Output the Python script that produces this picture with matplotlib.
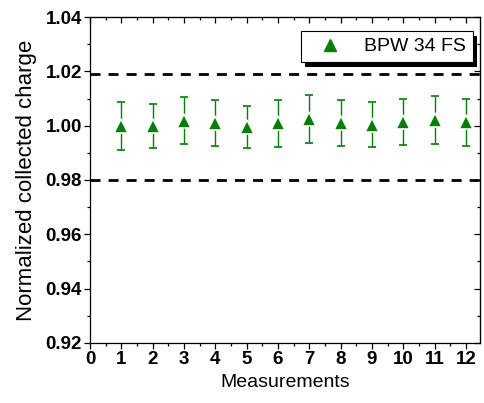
import matplotlib
matplotlib.use("Agg")
import matplotlib.pyplot as plt
from matplotlib.ticker import MultipleLocator, FormatStrFormatter
from matplotlib.lines import Line2D
from matplotlib.patches import Rectangle

# data
measurements = [1, 2, 3, 4, 5, 6, 7, 8, 9, 10, 11, 12]
charge = [1.0000, 0.9999, 1.0019, 1.0010, 0.9994, 1.0008,
          1.0024, 1.0010, 1.0003, 1.0014, 1.0020, 1.0012]
charge_err = [0.0088, 0.0080, 0.0088, 0.0085, 0.0078, 0.0085,
              0.0089, 0.0085, 0.0083, 0.0086, 0.0088, 0.0086]
limits = [1.019, 0.980]
series_label = "BPW 34 FS"

plt.rcParams['font.family'] = ['Liberation Sans', 'DejaVu Sans']

fig = plt.figure(figsize=(4.85, 4.03), dpi=100)
ax = fig.add_axes([0.1856, 0.1489, 0.9897 - 0.1856, 0.9578 - 0.1489])

green = '#008000'

# limit lines
for lim in limits:
    ax.axhline(lim, color='black', lw=2.0, dashes=(3.6, 2.9), zorder=1)

ax.errorbar(measurements, charge, yerr=charge_err, fmt='^', color=green,
            ms=9.5, mfc=green, mec='white', mew=1.2, ecolor=green,
            elinewidth=1.0, capsize=3.0, capthick=1.0, zorder=3)

ax.set_xlim(0, 12.45)
ax.set_ylim(0.92, 1.04)
ax.xaxis.set_major_locator(MultipleLocator(1))
ax.xaxis.set_minor_locator(MultipleLocator(0.5))
ax.yaxis.set_major_locator(MultipleLocator(0.02))
ax.yaxis.set_minor_locator(MultipleLocator(0.01))
ax.yaxis.set_major_formatter(FormatStrFormatter('%.2f'))

for s in ax.spines.values():
    s.set_linewidth(0.9)

ax.tick_params(which='both', direction='out', top=False, right=False, width=0.9)
ax.tick_params(which='major', length=4.3, pad=1.5, labelsize=13.5)
ax.tick_params(which='minor', length=2.2)
for lbl in ax.get_xticklabels() + ax.get_yticklabels():
    lbl.set_fontweight('bold')

# inward mirror ticks on top and right
sec_x = ax.secondary_xaxis('top')
sec_x.xaxis.set_major_locator(MultipleLocator(1))
sec_x.xaxis.set_minor_locator(MultipleLocator(0.5))
sec_x.tick_params(which='both', direction='in', labeltop=False, width=0.9)
sec_x.tick_params(which='major', length=4.3)
sec_x.tick_params(which='minor', length=2.2)
sec_y = ax.secondary_yaxis('right')
sec_y.yaxis.set_major_locator(MultipleLocator(0.02))
sec_y.yaxis.set_minor_locator(MultipleLocator(0.01))
sec_y.tick_params(which='both', direction='in', labelright=False, width=0.9)
sec_y.tick_params(which='major', length=4.3)
sec_y.tick_params(which='minor', length=2.2)

ax.set_xlabel('Measurements', fontsize=14, labelpad=4)
ax.set_ylabel('Normalized collected charge', fontsize=16, labelpad=6)

handle = Line2D([], [], ls='none', marker='^', ms=9, color=green)
leg = ax.legend([handle], [series_label], loc='upper right',
                bbox_to_anchor=(0.982, 0.957), frameon=True, fancybox=False,
                fontsize=14, handletextpad=0.6, borderpad=0.35,
                handlelength=2.3, borderaxespad=0, framealpha=1)
leg.get_frame().set_edgecolor('black')
leg.get_frame().set_linewidth(0.8)
leg.set_zorder(6)

# offset black shadow behind the legend box
fig.canvas.draw()
bb = leg.get_window_extent()
shadow = Rectangle((bb.x0 + 4, bb.y0 - 5), bb.width, bb.height,
                   transform=None, facecolor='black', edgecolor='none',
                   zorder=5)
ax.add_artist(shadow)

fig.savefig('out.png', dpi=100)
